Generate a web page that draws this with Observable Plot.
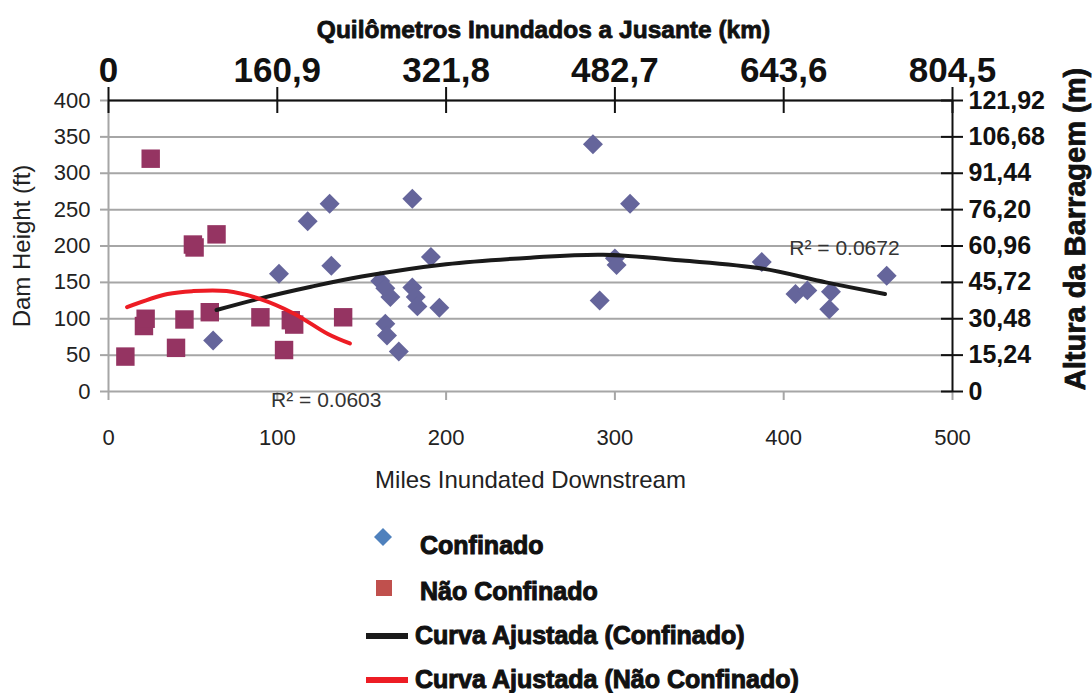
<!DOCTYPE html>
<html><head><meta charset="utf-8">
<script src="https://cdn.jsdelivr.net/npm/d3@7"></script>
<script src="https://cdn.jsdelivr.net/npm/@observablehq/plot@0.6"></script>
<style>
body{margin:0;background:#fff;}
#chart{position:relative;width:1092px;height:693px;overflow:hidden;background:#fff;}
#legend{position:absolute;left:0;top:510px;width:1092px;height:183px;}
.leg{position:absolute;font-family:"Liberation Sans",Arial,sans-serif;font-weight:bold;font-size:25px;color:#111;white-space:nowrap;-webkit-text-stroke:1px #111;line-height:1;}
</style></head><body><div id="chart"><div id="legend"></div></div>
<script>
// ---- data ----
const confMiles  = [62,101,118,131,132,161,164,167,164,165,172,180,180,182,183,191,196,287,291,300,301,309,387,407,414,428,427,461];
const confHeight = [70,162,234,258,173,152,142,130,93,77,55,265,143,130,117,185,115,340,125,183,174,258,178,134,139,137,113,159];
const uncMiles   = [10,21,22,25,40,45,50,51,60,64,90,104,108,110,139];
const uncHeight  = [48,90,100,320,60,99,202,198,109,216,102,57,98,92,102];
// fitted curves
const fitConfMiles  = [64,90,120,150,200,250,293,340,387,425,460];
const fitConfHeight = [112,128,144,158,175,184,188,180,169,150,134];
const fitUncMiles   = [11,35,50,70,90,110,130,143];
const fitUncHeight  = [116,134,138,138,127,107,79,66];
// axes
const milesTicks = [0,100,200,300,400,500];
const kmTickLabels = ["0","160,9","321,8","482,7","643,6","804,5"];
const heightTicks = [0,50,100,150,200,250,300,350,400];
const meterTickLabels = ["0","15,24","30,48","45,72","60,96","76,20","91,44","106,68","121,92"];
const r2Labels = ["R\u00b2 = 0.0672","R\u00b2 = 0.0603"];
const r2Miles = [436,129];
const r2Height = [197,-12];
const legendLabels = ["Confinado","Não Confinado","Curva Ajustada (Confinado)","Curva Ajustada (Não Confinado)"];

const conf = confMiles.map((x,i)=>({x, y:confHeight[i]}));
const unc = uncMiles.map((x,i)=>({x, y:uncHeight[i]}));
const fitConf = fitConfMiles.map((x,i)=>({x, y:fitConfHeight[i]}));
const fitUnc = fitUncMiles.map((x,i)=>({x, y:fitUncHeight[i]}));
const r2 = r2Labels.map((t,i)=>({t, x:r2Miles[i], y:r2Height[i]}));

const W=1092, H=510, mL=108, mR=140, mT=100, mB=119;
const fw = W-mL-mR, fh = H-mT-mB;
const gray="#a6a6a6";
const thin = "Liberation Sans, Arial, sans-serif";

const plot = Plot.plot({
  width:W, height:H, marginLeft:mL, marginRight:mR, marginTop:mT, marginBottom:mB,
  x:{domain:[0,500], axis:null},
  y:{domain:[0,400], axis:null},
  style:{fontFamily:thin, background:"white", overflow:"visible"},
  marks:[
    Plot.gridY(heightTicks, {stroke:gray, strokeOpacity:1, strokeWidth:2}),
    Plot.ruleX([0], {stroke:gray, strokeWidth:2}),
    Plot.tickY(heightTicks, {y:d=>d, stroke:gray, strokeWidth:2, insetLeft:-8, insetRight:fw}),
    Plot.tickX(milesTicks, {x:d=>d, stroke:gray, strokeWidth:2, insetTop:fh, insetBottom:-9}),
    // black top & right axes
    Plot.ruleY([400], {stroke:"#111", strokeWidth:2}),
    Plot.ruleX([500], {stroke:"#111", strokeWidth:2}),
    Plot.tickX(milesTicks, {x:d=>d, stroke:"#111", strokeWidth:2, insetTop:-13, insetBottom:fh-13}),
    Plot.tickY(heightTicks, {y:d=>d, stroke:"#111", strokeWidth:2, insetLeft:fw-11, insetRight:-11}),
    // tick labels
    Plot.axisY({anchor:"left", ticks:heightTicks, tickSize:0, tickPadding:18, fontSize:22, fill:"#222", stroke:"none", label:null}),
    Plot.axisX({anchor:"bottom", ticks:milesTicks, tickSize:0, tickPadding:38, fontSize:22, fill:"#222", stroke:"none", label:null}),
    Plot.axisX({anchor:"top", ticks:milesTicks, tickSize:0, tickPadding:19, fontSize:35, fontWeight:"bold", fill:"#111", stroke:"none", label:null,
      tickFormat:d=>kmTickLabels[milesTicks.indexOf(d)]}),
    Plot.axisY({anchor:"right", ticks:heightTicks, tickSize:0, tickPadding:16, fontSize:25, fontWeight:"bold", fill:"#111", stroke:"none", label:null,
      tickFormat:d=>meterTickLabels[heightTicks.indexOf(d)]}),
    // titles
    Plot.text(["Dam Height (ft)"], {frameAnchor:"left", textAnchor:"middle", rotate:-90, dx:-86, fontSize:24, fill:"#222"}),
    Plot.text(["Miles Inundated Downstream"], {frameAnchor:"bottom", textAnchor:"middle", dy:96, fontSize:24, fill:"#222"}),
    Plot.text(["Quilômetros Inundados a Jusante (km)"], {frameAnchor:"top", textAnchor:"middle", dx:13, dy:-80, fontSize:24.5, fontWeight:"bold", fill:"#111", stroke:"#111", strokeWidth:0.8}),
    Plot.text(["Altura da Barragem (m)"], {frameAnchor:"right", textAnchor:"middle", rotate:-90, dx:123, dy:-17, fontSize:29, fontWeight:"bold", fill:"#111", stroke:"#111", strokeWidth:0.8}),
    // points
    Plot.dot(conf, {x:"x", y:"y", symbol:"diamond2", r:9, fill:"#65659b", stroke:"none"}),
    Plot.dot(unc, {x:"x", y:"y", symbol:"square", r:10.4, fill:"#953462", stroke:"none"}),
    // fitted curves
    Plot.line(fitConf, {x:"x", y:"y", curve:"catmull-rom", stroke:"#1a1a1a", strokeWidth:4}),
    Plot.line(fitUnc, {x:"x", y:"y", curve:"catmull-rom", stroke:"#ed1c24", strokeWidth:4}),
    Plot.text(r2, {x:"x", y:"y", text:"t", fontSize:21, fill:"#333"})
  ]
});
const chart = document.getElementById("chart");
chart.insertBefore(plot, chart.firstChild);

// legend
const leg = document.getElementById("legend");
const rows = [
  {icon:`<svg width="20" height="20"><path d="M10,1 L19,10 L10,19 L1,10 Z" fill="#4f81bd"/></svg>`, ix:373, iy:17, tx:420, ty:36},
  {icon:`<svg width="20" height="20"><rect x="2" y="2" width="16" height="16" fill="#c0504d"/></svg>`, ix:374, iy:68, tx:420, ty:82},
  {icon:`<svg width="42" height="8"><rect x="0" y="1" width="42" height="6" fill="#1a1a1a"/></svg>`, ix:366, iy:122, tx:415, ty:126},
  {icon:`<svg width="42" height="8"><rect x="0" y="1" width="42" height="6" fill="#ed1c24"/></svg>`, ix:366, iy:166, tx:415, ty:170}
];
rows.forEach((r,i)=>{
  const ic = document.createElement("div");
  ic.style.cssText = `position:absolute;left:${r.ix}px;top:${r.iy}px;line-height:0;`;
  ic.innerHTML = r.icon;
  leg.appendChild(ic);
  const t = document.createElement("div");
  t.className = "leg";
  t.style.left = r.tx + "px";
  t.style.top = (r.ty - 13) + "px";
  t.textContent = legendLabels[i];
  leg.appendChild(t);
});
</script></body></html>
